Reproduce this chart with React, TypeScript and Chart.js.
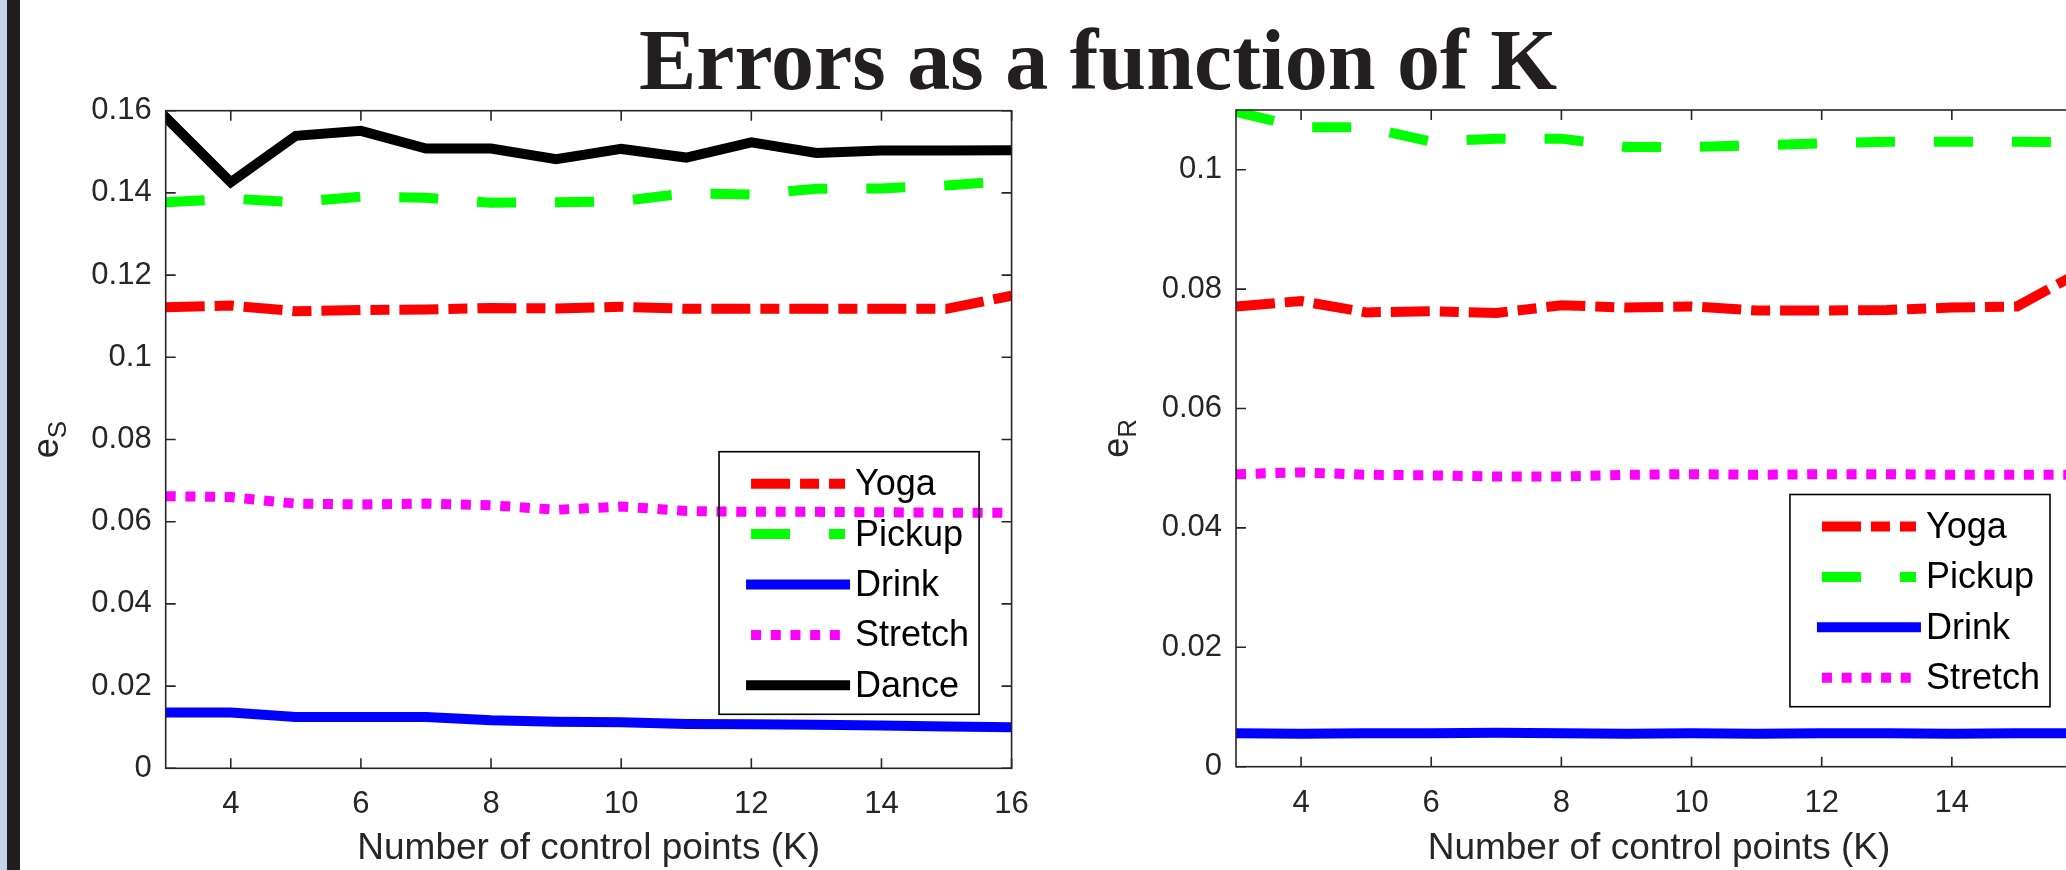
import React, { useEffect, useRef } from "react";
import { Chart, registerables } from "chart.js";

Chart.register(...registerables);

// ---------- data ----------
const K_VALUES = [3, 4, 5, 6, 7, 8, 9, 10, 11, 12, 13, 14, 15, 16];
const X_TICKS = [4, 6, 8, 10, 12, 14, 16];
const Y_TICKS_S = [0, 0.02, 0.04, 0.06, 0.08, 0.1, 0.12, 0.14, 0.16];
const Y_TICKS_R = [0, 0.02, 0.04, 0.06, 0.08, 0.1];

const SERIES_NAMES = ["Yoga", "Pickup", "Drink", "Stretch", "Dance"];

// e_S (left panel)
const YOGA_S = [0.1122, 0.1126, 0.1112, 0.1115, 0.1116, 0.112, 0.1119, 0.1123, 0.1118, 0.1118, 0.1118, 0.1118, 0.1118, 0.115];
const PICKUP_S = [0.1377, 0.1386, 0.1377, 0.1391, 0.1388, 0.1376, 0.1377, 0.138, 0.1399, 0.1396, 0.141, 0.1411, 0.1418, 0.143];
const DRINK_S = [0.0136, 0.0136, 0.0125, 0.0125, 0.0125, 0.0117, 0.0113, 0.0112, 0.0108, 0.0107, 0.0106, 0.0104, 0.0102, 0.01];
const STRETCH_S = [0.0662, 0.066, 0.0644, 0.0642, 0.0644, 0.064, 0.0629, 0.0637, 0.0626, 0.0624, 0.0624, 0.0623, 0.0622, 0.0622];
const DANCE_S = [0.1584, 0.1426, 0.1539, 0.1551, 0.1508, 0.1508, 0.1482, 0.1507, 0.1486, 0.1523, 0.1497, 0.1503, 0.1503, 0.1504];

// e_R (right panel)
const YOGA_R = [0.0771, 0.078, 0.0761, 0.0763, 0.076, 0.0773, 0.0769, 0.0771, 0.0764, 0.0764, 0.0765, 0.0769, 0.0771, 0.083];
const PICKUP_R = [0.1097, 0.1071, 0.1071, 0.1047, 0.1052, 0.1052, 0.1038, 0.1038, 0.1041, 0.1044, 0.1047, 0.1047, 0.1047, 0.1046];
const DRINK_R = [0.0056, 0.0055, 0.0056, 0.0056, 0.0057, 0.0056, 0.0055, 0.0056, 0.0055, 0.0056, 0.0056, 0.0055, 0.0056, 0.0056];
const STRETCH_R = [0.049, 0.0493, 0.0489, 0.0488, 0.0486, 0.0486, 0.0489, 0.049, 0.0489, 0.049, 0.049, 0.0489, 0.0489, 0.0489];

// ---------- styles ----------
const SERIES_COLORS = ["#ff0000", "#00ff00", "#0000ff", "#ff00ff", "#000000"];
const SERIES_DASHES: number[][] = [[39, 10, 19, 10], [39, 39], [], [10, 9.7], []];
const LINE_WIDTH = 10;
const SANS = "'Liberation Sans', Arial, Helvetica, sans-serif";
const AXIS_COLOR = "#262626";

function fmt(v: number) {
  return String(parseFloat(Number(v).toFixed(4)));
}

function makeDatasets(series: number[][]) {
  const n = series.length;
  return series.map((vals, i) => ({
    label: SERIES_NAMES[i],
    data: K_VALUES.map((k, j) => ({ x: k, y: vals[j] })),
    borderColor: SERIES_COLORS[i],
    backgroundColor: SERIES_COLORS[i],
    borderWidth: LINE_WIDTH,
    borderDash: SERIES_DASHES[i],
    borderCapStyle: SERIES_DASHES[i].length ? "butt" : "square",
    borderJoinStyle: "miter",
    pointRadius: 0,
    pointHoverRadius: 0,
    fill: false,
    tension: 0,
    order: n - i,
  }));
}

const matlabPlugin = {
  id: "matlabAxes",
  afterDatasetsDraw(chart: any, _args: any, opts: any) {
    const { ctx, chartArea: ca } = chart;
    const xs = chart.scales.x;
    const ys = chart.scales.y;
    ctx.save();
    // axes box
    ctx.setLineDash([]);
    ctx.strokeStyle = AXIS_COLOR;
    ctx.lineWidth = 1.6;
    ctx.strokeRect(ca.left, ca.top, ca.right - ca.left, ca.bottom - ca.top);
    // inward ticks on all sides
    const tl = 10;
    ctx.beginPath();
    xs.ticks.forEach((t: any) => {
      const px = xs.getPixelForValue(t.value);
      ctx.moveTo(px, ca.bottom);
      ctx.lineTo(px, ca.bottom - tl);
      ctx.moveTo(px, ca.top);
      ctx.lineTo(px, ca.top + tl);
    });
    ys.ticks.forEach((t: any) => {
      const py = ys.getPixelForValue(t.value);
      ctx.moveTo(ca.left, py);
      ctx.lineTo(ca.left + tl, py);
      ctx.moveTo(ca.right, py);
      ctx.lineTo(ca.right - tl, py);
    });
    ctx.stroke();

    // legend
    const ds = chart.data.datasets;
    const legFont = `36px ${SANS}`;
    ctx.font = legFont;
    let maxW = 0;
    ds.forEach((d: any) => {
      maxW = Math.max(maxW, ctx.measureText(d.label).width);
    });
    const sampleOff = 32;
    const sampleLen = 94;
    const textGap = 10;
    const rightPad = 10;
    const rowH = 50.4;
    const boxW = sampleOff + sampleLen + textGap + maxW + rightPad;
    const boxH = 32 + (ds.length - 1) * rowH + 29;
    const bx1 = ca.right - opts.legendRight;
    const by1 = ca.bottom - opts.legendBottom;
    const bx0 = bx1 - boxW;
    const by0 = by1 - boxH;
    ctx.strokeStyle = "#000000";
    ctx.lineWidth = 1.6;
    ctx.strokeRect(bx0, by0, boxW, boxH);
    ds.forEach((d: any, i: number) => {
      const ry = by0 + 32 + i * rowH;
      const sx = bx0 + sampleOff;
      ctx.save();
      ctx.beginPath();
      ctx.strokeStyle = d.borderColor;
      ctx.lineWidth = LINE_WIDTH;
      ctx.setLineDash(d.borderDash);
      ctx.lineDashOffset = 0;
      ctx.lineCap = d.borderDash.length ? "butt" : "square";
      ctx.moveTo(sx, ry);
      ctx.lineTo(sx + sampleLen, ry);
      ctx.stroke();
      ctx.restore();
      ctx.fillStyle = "#000000";
      ctx.font = legFont;
      ctx.textAlign = "left";
      ctx.textBaseline = "middle";
      ctx.fillText(d.label, sx + sampleLen + textGap, ry + 1.5);
    });

    // y label with subscript
    const [main, sub] = opts.yLabel;
    ctx.save();
    ctx.translate(ca.left - opts.yLabelOffset, (ca.top + ca.bottom) / 2);
    ctx.rotate(-Math.PI / 2);
    ctx.fillStyle = AXIS_COLOR;
    ctx.textAlign = "left";
    ctx.textBaseline = "alphabetic";
    ctx.font = `36px ${SANS}`;
    const w1 = ctx.measureText(main).width;
    ctx.font = `26px ${SANS}`;
    const w2 = ctx.measureText(sub).width;
    const start = -(w1 + w2) / 2;
    ctx.font = `36px ${SANS}`;
    ctx.fillText(main, start, 0);
    ctx.font = `26px ${SANS}`;
    ctx.fillText(sub, start + w1, 8);
    ctx.restore();

    ctx.restore();
  },
};

function makeConfig(
  series: number[][],
  yMax: number,
  yTicks: number[],
  frame: { top: number; right: number; axisW: number; axisH: number },
  yLabel: string[],
  legend: { right: number; bottom: number }
) {
  return {
    type: "line",
    data: { datasets: makeDatasets(series) },
    plugins: [matlabPlugin],
    options: {
      responsive: false,
      animation: false,
      devicePixelRatio: 1,
      events: [],
      layout: { padding: { left: 0, top: frame.top, right: frame.right, bottom: 0 } },
      plugins: {
        legend: { display: false },
        tooltip: { enabled: false },
        title: { display: false },
        matlabAxes: {
          yLabel,
          yLabelOffset: 108,
          legendRight: legend.right,
          legendBottom: legend.bottom,
        },
      },
      scales: {
        x: {
          type: "linear",
          min: 3,
          max: 16,
          afterBuildTicks: (s: any) => {
            s.ticks = X_TICKS.map((v) => ({ value: v }));
          },
          afterFit: (s: any) => {
            s.height = frame.axisH;
          },
          grid: { display: false, drawTicks: false },
          border: { display: false },
          ticks: {
            autoSkip: false,
            maxRotation: 0,
            minRotation: 0,
            padding: 21,
            color: AXIS_COLOR,
            font: { family: SANS, size: 31, lineHeight: 1 },
            callback: (v: any) => fmt(v),
          },
          title: {
            display: true,
            text: "Number of control points (K)",
            color: AXIS_COLOR,
            font: { family: SANS, size: 37, lineHeight: 1 },
            padding: { top: 0, bottom: 3 },
          },
        },
        y: {
          type: "linear",
          min: 0,
          max: yMax,
          afterBuildTicks: (s: any) => {
            s.ticks = yTicks.map((v) => ({ value: v }));
          },
          afterFit: (s: any) => {
            s.width = frame.axisW;
          },
          grid: { display: false, drawTicks: false },
          border: { display: false },
          ticks: {
            autoSkip: false,
            padding: 14,
            color: AXIS_COLOR,
            font: { family: SANS, size: 31, lineHeight: 1 },
            callback: (v: any) => fmt(v),
          },
        },
      },
    },
  };
}

const CANVAS_W = 1100;
const CANVAS_H = 870;

export default function App() {
  const leftRef = useRef<HTMLCanvasElement | null>(null);
  const rightRef = useRef<HTMLCanvasElement | null>(null);

  useEffect(() => {
    const charts: Chart[] = [];
    if (leftRef.current) {
      charts.push(
        new Chart(
          leftRef.current,
          makeConfig(
            [YOGA_S, PICKUP_S, DRINK_S, STRETCH_S, DANCE_S],
            0.16,
            Y_TICKS_S,
            { top: 110.7, right: CANVAS_W - 1011.6, axisW: 165.7, axisH: CANVAS_H - 768.3 },
            ["e", "S"],
            { right: 32.5, bottom: 54 }
          ) as any
        )
      );
    }
    if (rightRef.current) {
      charts.push(
        new Chart(
          rightRef.current,
          makeConfig(
            [YOGA_R, PICKUP_R, DRINK_R, STRETCH_R],
            0.11,
            Y_TICKS_R,
            { top: 110, right: CANVAS_W - (2082 - 1100), axisW: 1236 - 1100, axisH: CANVAS_H - 766.7 },
            ["e", "R"],
            { right: 32, bottom: 60 }
          ) as any
        )
      );
    }
    return () => charts.forEach((c) => c.destroy());
  }, []);

  return (
    <div
      style={{
        position: "fixed",
        left: 0,
        top: 0,
        width: 2066,
        height: 870,
        overflow: "hidden",
        background: "#ffffff",
      }}
    >
      <div style={{ position: "absolute", left: 0, top: 0, width: 7, height: 870, background: "#c4d5e7" }} />
      <div style={{ position: "absolute", left: 7, top: 0, width: 13, height: 870, background: "#221e1f" }} />
      <canvas
        ref={leftRef}
        width={CANVAS_W}
        height={CANVAS_H}
        style={{ position: "absolute", left: 0, top: 0, width: CANVAS_W, height: CANVAS_H }}
      />
      <canvas
        ref={rightRef}
        width={CANVAS_W}
        height={CANVAS_H}
        style={{ position: "absolute", left: 1100, top: 0, width: CANVAS_W, height: CANVAS_H }}
      />
      <div
        style={{
          position: "absolute",
          left: 0,
          top: 17,
          width: 2196,
          textAlign: "center",
          font: "bold 86px 'Liberation Serif', 'Times New Roman', serif",
          lineHeight: "86px",
          color: "#231f20",
          whiteSpace: "nowrap",
        }}
      >
        Errors as a function of K
      </div>
    </div>
  );
}
